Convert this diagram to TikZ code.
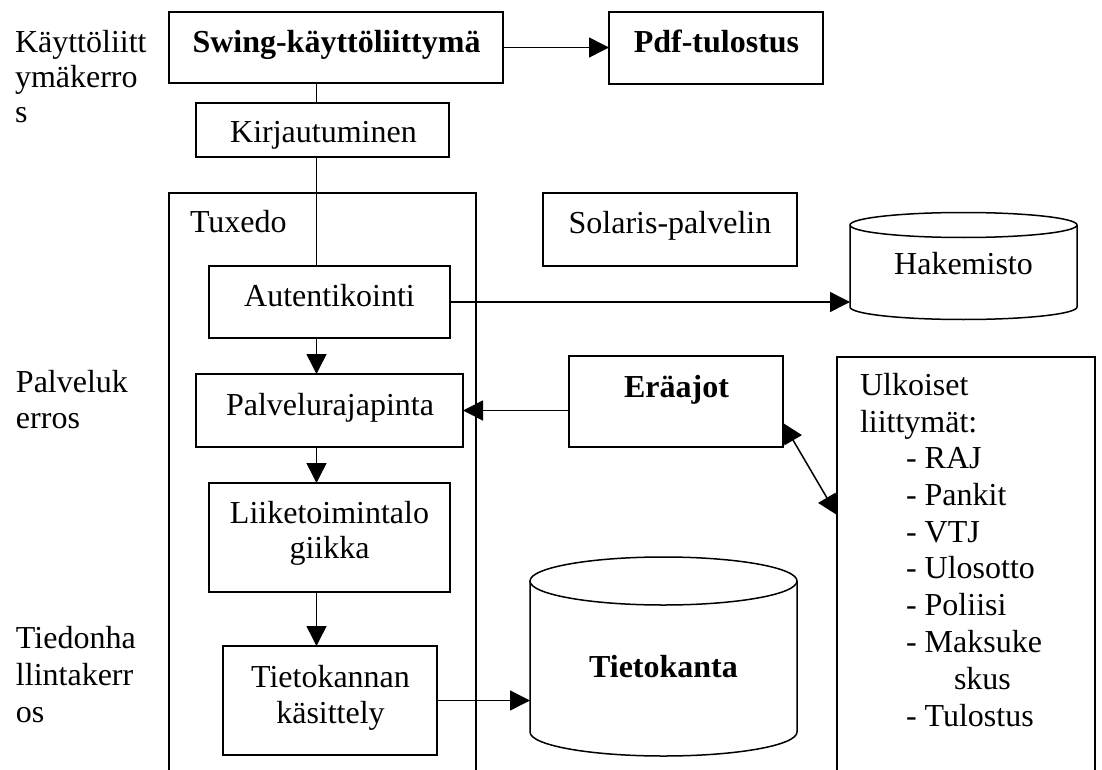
\documentclass[tikz,border=0pt]{standalone}
\usepackage{fontspec}
\setmainfont{Liberation Serif}
\usetikzlibrary{arrows.meta,calc}
\begin{document}
\begin{tikzpicture}[x=1pt,y=-1pt,
  line width=1.5pt,
  box/.style={draw, rectangle, inner sep=0pt, outer sep=0pt},
  frame/.style={rectangle, inner sep=0pt, outer sep=0pt},
  lbl/.style={inner sep=0pt, outer sep=0pt, font=\fontsize{32}{37}\selectfont},
  blbl/.style={inner sep=0pt, outer sep=0pt, font=\fontsize{32}{37}\selectfont\bfseries},
  arr/.style={-{Triangle[length=20pt,width=20pt]}},
  dbl/.style={{Triangle[length=20pt,width=20pt]}-{Triangle[length=20pt,width=20pt]}},
]
\useasboundingbox (0,0) rectangle (1102,770);

% layer labels on the left
\node[lbl, anchor=base west] (k1) at (15,53)  {Käyttöliitt};
\node[lbl, anchor=base west] (k2) at (15,88)  {ymäkerro};
\node[lbl, anchor=base west] (k3) at (15,123) {s};
\node[lbl, anchor=base west] (p1) at (16,392) {Palveluk};
\node[lbl, anchor=base west] (p2) at (16,428) {erros};
\node[lbl, anchor=base west] (t1) at (16,648) {Tiedonha};
\node[lbl, anchor=base west] (t2) at (16,685) {llintakerr};
\node[lbl, anchor=base west] (t3) at (16,722) {os};

% open containers (cut at the bottom edge)
\node[frame, minimum width=307pt, minimum height=579pt] (tux) at (322.5,482.5) {};
\draw (tux.south west) -- (tux.north west) -- (tux.north east) -- (tux.south east);
\node[lbl, anchor=base west] (tuxT) at (190,232) {Tuxedo};

\node[frame, minimum width=258pt, minimum height=415pt] (ulk) at (966,564.5) {};
\draw (ulk.south west) -- (ulk.north west) -- (ulk.north east) -- (ulk.south east);

% boxes
\node[box, minimum width=334pt, minimum height=71pt] (swing)   at (336,47.5)   {};
\node[box, minimum width=214pt, minimum height=72pt] (pdf)     at (716,48)     {};
\node[box, minimum width=253pt, minimum height=54pt] (kirj)    at (322.5,130)  {};
\node[box, minimum width=254pt, minimum height=73pt] (solaris) at (670,229.5)  {};
\node[box, minimum width=241pt, minimum height=72pt] (autent)  at (329.5,302)  {};
\node[box, minimum width=267pt, minimum height=73pt] (palvelu) at (329.5,410.5){};
\node[box, minimum width=214pt, minimum height=91pt] (eraajot) at (676,401.5)  {};
\node[box, minimum width=241pt, minimum height=109pt] (liike)  at (329.5,537.5){};
\node[box, minimum width=214pt, minimum height=109pt] (tkkas)  at (330,700.5)  {};

% cylinders: body nodes, then outline
\node[frame, minimum width=227pt, minimum height=82pt] (hak) at (963.5,266) {};
\draw[fill=white] (hak.north west) -- (hak.south west)
  arc[start angle=180, end angle=360, x radius=113.5pt, y radius=12.5pt]
  -- (hak.north east);
\draw[fill=white] (hak.north) ellipse[x radius=113.5pt, y radius=12.5pt];

\node[frame, minimum width=267pt, minimum height=151pt] (tk) at (663.5,656.5) {};
\draw[fill=white] (tk.north west) -- (tk.south west)
  arc[start angle=180, end angle=360, x radius=133.5pt, y radius=24pt]
  -- (tk.north east);
\draw[fill=white] (tk.north) ellipse[x radius=133.5pt, y radius=24pt];

% box texts
\node[blbl, anchor=base] (swingT)   at (336.5,53) {Swing-käyttöliittymä};
\node[blbl, anchor=base] (pdfT)     at (716.5,53) {Pdf-tulostus};
\node[lbl,  anchor=base] (kirjT)    at (323.5,143) {Kirjautuminen};
\node[lbl,  anchor=base] (solarisT) at (670,233)  {Solaris-palvelin};
\node[lbl,  anchor=base] (hakT)     at (963.5,274) {Hakemisto};
\node[lbl,  anchor=base] (autentT)  at (329.5,306) {Autentikointi};
\node[lbl,  anchor=base] (palveluT) at (330,415)  {Palvelurajapinta};
\node[blbl, anchor=base] (eraajotT) at (676.5,397) {Eräajot};
\node[lbl,  anchor=base] (liike1)   at (329.5,523) {Liiketoimintalo};
\node[lbl,  anchor=base] (liike2)   at (329.5,558) {giikka};
\node[lbl,  anchor=base] (tkkas1)   at (330.5,687) {Tietokannan};
\node[lbl,  anchor=base] (tkkas2)   at (330.5,723) {käsittely};
\node[blbl, anchor=base] (tkT)      at (663.5,677) {Tietokanta};

% external interfaces list
\node[lbl, anchor=base west] (u1)  at (860,395) {Ulkoiset};
\node[lbl, anchor=base west] (u2)  at (860,432) {liittymät:};
\node[lbl, anchor=base west] (u3)  at (906,468) {- RAJ};
\node[lbl, anchor=base west] (u4)  at (906,505) {- Pankit};
\node[lbl, anchor=base west] (u5)  at (906,542) {- VTJ};
\node[lbl, anchor=base west] (u6)  at (906,578) {- Ulosotto};
\node[lbl, anchor=base west] (u7)  at (906,615) {- Poliisi};
\node[lbl, anchor=base west] (u8)  at (906,652) {- Maksuke};
\node[lbl, anchor=base west] (u9)  at (954,689) {skus};
\node[lbl, anchor=base west] (u10) at (906,726) {- Tulostus};

% connectors
\coordinate (col) at (316.5,0);
\draw (col |- swing.south) -- (col |- kirj.north);
\draw (col |- kirj.south) -- (col |- autent.north);
\draw[arr] (col |- autent.south) -- (col |- palvelu.north);
\draw[arr] (col |- palvelu.south) -- (col |- liike.north);
\draw[arr] (col |- liike.south) -- (col |- tkkas.north);
\draw[arr] (swing.east) -- (swing.east -| pdf.west);
\draw[arr] (autent.east) -- (autent.east -| hak.west);
\draw[arr] (eraajot.west |- palvelu.east) -- (palvelu.east);
\draw[dbl] ($(eraajot.east)+(0,21.5)$) -- ($(ulk.north west)+(0,158)$);
\draw[arr] (tkkas.east) -- (tkkas.east -| tk.west);
\end{tikzpicture}
\end{document}
